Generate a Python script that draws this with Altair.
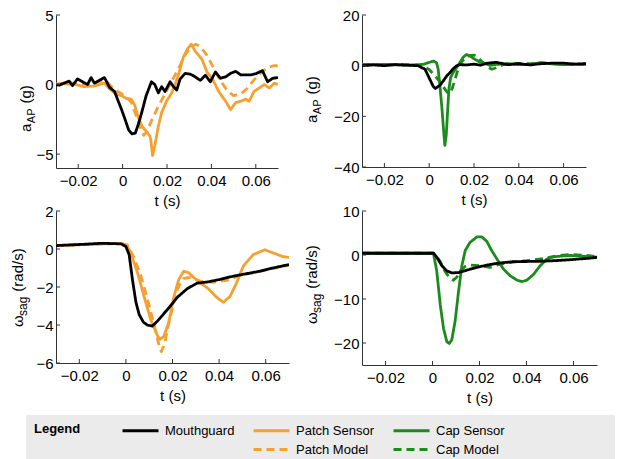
import altair as alt
import pandas as pd

# ---------------- data ----------------
# Panel 1: a_AP, patch
p1_mg_t = [-0.03, -0.0286, -0.0264, -0.0241, -0.0226, -0.0203, -0.018, -0.0158, -0.0142, -0.0127, -0.0105, -0.0082,
           -0.0059, -0.0036, -0.0022, -0.0007, 0.0009, 0.0027, 0.0042, 0.0057, 0.0072, 0.0088, 0.0106, 0.013, 0.0145,
           0.0161, 0.0176, 0.0191, 0.0214, 0.0229, 0.0244, 0.0259, 0.0282, 0.0305, 0.0327, 0.035, 0.0373, 0.0395,
           0.0418, 0.0441, 0.0464, 0.0486, 0.0509, 0.0532, 0.0555, 0.0577, 0.06, 0.063, 0.0653, 0.0676, 0.07]
p1_mg_v = [0, -0.05, 0.1, 0.25, -0.07, 0.4, 0.2, 0, 0.5, 0.1, 0.3, 0.5,
           -0.2, -0.5, -1.1, -1.7, -2.4, -3.25, -3.55, -3.5, -2.8, -1.9, -0.8, 0.2, 0,
           -0.6, -0.15, -0.5, 0.2, -0.15, -0.4, 0.4, 0.8, 0.75, 0.55, 0.3, 0.67, 0.2,
           0.9, 0.45, 0.55, 0.8, 0.95, 0.7, 0.7, 0.7, 0.78, 1.0, 0.2, 0.45, 0.5]
p1_ps_t = [-0.03, -0.0264, -0.0218, -0.0173, -0.0127, -0.0082, -0.0059, -0.0029, -0.0006, 0.0017, 0.0039, 0.0055,
           0.007, 0.0088, 0.0108, 0.0123, 0.0127, 0.0135, 0.0145, 0.0161, 0.0176, 0.0198, 0.0221, 0.0239, 0.0255,
           0.0274, 0.0294, 0.0309, 0.0327, 0.0358, 0.038, 0.0403, 0.0433, 0.0464, 0.0486, 0.0509, 0.0532, 0.0555,
           0.057, 0.0592, 0.0615, 0.0638, 0.0661, 0.0683, 0.07]
p1_ps_v = [0, 0.05, 0.02, -0.15, -0.1, 0.1, -0.3, -0.7, -0.8, -1.0, -1.05, -1.5,
           -2.35, -3.0, -3.4, -3.7, -4.0, -5.1, -4.4, -3.0, -2.0, -1.2, -0.6, 0.1, 0.9,
           2.0, 2.6, 2.9, 2.4, 1.8, 0.9, 0.45, -0.5, -1.2, -1.8, -1.3, -1.2, -1.05,
           -1.2, -0.5, -0.25, 0, -0.25, 0.1, 0]
p1_pm_t = [-0.03, -0.025, -0.02, -0.015, -0.01, -0.007, -0.004, -0.001, 0.002, 0.004, 0.006, 0.008, 0.0095,
           0.011, 0.013, 0.016, 0.019, 0.022, 0.025, 0.028, 0.031, 0.033, 0.035, 0.038, 0.041, 0.044, 0.047,
           0.05, 0.053, 0.056, 0.059, 0.062, 0.065, 0.068, 0.07]
p1_pm_v = [0.05, 0.1, 0.1, 0, 0.25, 0.2, -0.35, -0.6, -0.95, -1.3, -2.2, -3.1, -3.65,
           -3.4, -2.6, -1.6, -0.7, 0.2, 1.1, 2.1, 2.75, 2.9, 2.75, 2.1, 1.2, 0.3, -0.4,
           -0.8, -0.7, -0.3, 0.3, 0.8, 1.2, 1.35, 1.35]

# Panel 2: a_AP, cap
p2_mg_t = [-0.03, -0.025, -0.02, -0.015, -0.01, -0.005, -0.0019, 0.0003, 0.0018, 0.0028, 0.0048, 0.0063, 0.0078,
           0.0093, 0.0107, 0.0122, 0.0137, 0.017, 0.02, 0.023, 0.026, 0.03, 0.035, 0.04, 0.045, 0.05, 0.055,
           0.06, 0.065, 0.07]
p2_mg_v = [0, 0.3, 0, 0.4, 0.2, 0, -1.4, -5.4, -8.2, -9, -7.7, -6, -4.1,
           -2.7, -1.2, -0.1, 0.4, 0.3, 0.6, 0.2, 1.0, 1.3, 0.4, 0.8, 0.3, 0.8, 1.0,
           1.0, 0.6, 0.8]
p2_cs_t = [-0.03, -0.02, -0.01, -0.0027, -0.0004, 0.002, 0.0033, 0.004, 0.0048, 0.0057, 0.0066, 0.007, 0.0076,
           0.0082, 0.0088, 0.0096, 0.0107, 0.0122, 0.0137, 0.0152, 0.0167, 0.0182, 0.0204, 0.0227, 0.0249,
           0.0272, 0.03, 0.035, 0.04, 0.045, 0.05, 0.055, 0.06, 0.065, 0.07]
p2_cs_v = [0.3, 0.5, 0.2, 0.5, 1.2, 1.8, 1.2, -1.4, -8, -17, -27.5, -31.5, -27.5,
           -18.3, -9.2, -4.6, -2.7, -0.8, 1.2, 3.4, 4.4, 3.8, 2.5, 1.4, 0.9,
           0.1, 0.5, 0.8, 0.4, 0.6, 1.2, 0.7, 0.4, 0.6, 0.5]
p2_cm_t = [-0.03, -0.02, -0.01, -0.003, 0.0, 0.002, 0.004, 0.006, 0.008, 0.0095, 0.011, 0.0125, 0.014, 0.016,
           0.018, 0.02, 0.022, 0.024, 0.026, 0.028, 0.03, 0.033, 0.036, 0.04, 0.045, 0.05, 0.055, 0.06, 0.065, 0.07]
p2_cm_v = [0.5, 0.4, 0.4, 0, -1.5, -3.5, -5.5, -8, -10.5, -11, -7, -2.5, 1, 3,
           4, 4.2, 3, 1.2, -0.5, -1.4, -0.8, 0.4, 0.8, 0.9, 0.7, 1.1, 0.8, 0.6, 0.4, 0.6]

# Panel 3: omega_sag, patch
p3_mg_t = [-0.03, -0.0177, -0.0106, -0.0021, 0, 0.0014, 0.0028, 0.0043, 0.0057, 0.0075, 0.0092, 0.0113, 0.0135,
           0.0163, 0.0191, 0.022, 0.0262, 0.0305, 0.0348, 0.0404, 0.0461, 0.0518, 0.0574, 0.0631, 0.07]
p3_mg_v = [0.18, 0.25, 0.3, 0.27, 0.13, -0.3, -1.6, -2.8, -3.45, -3.85, -4.0, -4.06, -3.8,
           -3.4, -3.0, -2.55, -2.1, -1.8, -1.74, -1.6, -1.43, -1.3, -1.17, -1.0, -0.82]
p3_ps_t = [-0.03, -0.0021, 0.0004, 0.0021, 0.005, 0.0078, 0.0106, 0.0135, 0.0146, 0.0163, 0.0184, 0.0206, 0.0227,
           0.0248, 0.027, 0.0291, 0.0319, 0.0355, 0.039, 0.0418, 0.0447, 0.0475, 0.0504, 0.0546, 0.0596, 0.0631,
           0.0674, 0.07]
p3_ps_v = [0.18, 0.3, 0.2, -0.2, -1.26, -2.5, -3.7, -4.55, -4.75, -4.6, -3.85, -2.5, -1.6,
           -1.17, -1.25, -1.5, -1.78, -2.1, -2.55, -2.8, -2.5, -1.78, -0.9, -0.3, -0.04, -0.2,
           -0.4, -0.44]
p3_pm_t = [-0.03, -0.0021, 0.0007, 0.0035, 0.0064, 0.0092, 0.0121, 0.0142, 0.0152, 0.0166, 0.0184, 0.0206, 0.0227,
           0.0248, 0.0277, 0.0319, 0.0376, 0.0433, 0.0489, 0.0546, 0.0603, 0.066, 0.07]
p3_pm_v = [0.18, 0.3, 0.2, -0.45, -1.4, -2.6, -4.0, -5.05, -5.4, -5.0, -3.9, -2.8, -1.95,
           -1.55, -1.5, -1.69, -1.75, -1.65, -1.4, -1.25, -1.1, -0.95, -0.85]

# Panel 4: omega_sag, cap
p4_mg_t = [-0.03, 0.0004, 0.0018, 0.004, 0.0061, 0.0082, 0.0111, 0.0146, 0.0189, 0.0231, 0.0274, 0.0345, 0.0444,
           0.0515, 0.0586, 0.0657, 0.07]
p4_mg_v = [0.4, 0.4, -0.5, -2.45, -3.6, -4.06, -4.0, -3.45, -2.8, -2.3, -1.9, -1.5, -1.45,
           -1.3, -1.07, -0.77, -0.54]
p4_cs_t = [-0.03, 0.0004, 0.0018, 0.0033, 0.0047, 0.0061, 0.0071, 0.0082, 0.0096, 0.0111, 0.0125, 0.0139, 0.016,
           0.0189, 0.021, 0.0231, 0.0252, 0.0274, 0.0302, 0.033, 0.0359, 0.038, 0.0401, 0.043, 0.0458, 0.0487,
           0.0515, 0.0586, 0.0643, 0.07]
p4_cs_v = [0.4, 0.4, -3.6, -11.3, -16.7, -19.7, -20.1, -19.3, -15.1, -8.2, -2.45, 1.0, 2.9,
           4.1, 4.1, 3.1, 1.0, -0.9, -3.2, -4.7, -5.7, -6.05, -5.75, -4.4, -2.45, -0.9,
           -0.4, -0.1, -0.3, -0.5]
p4_cm_t = [-0.03, 0.0004, 0.0018, 0.0033, 0.0054, 0.0075, 0.0089, 0.0104, 0.0118, 0.0139, 0.016, 0.0203, 0.0245,
           0.0288, 0.0345, 0.0401, 0.0472, 0.0529, 0.0586, 0.0657, 0.07]
p4_cm_v = [0.4, 0.4, -0.3, -1.5, -3.8, -5.3, -5.75, -5.0, -3.6, -2.6, -2.3, -2.45, -2.8,
           -2.07, -1.6, -1.3, -0.8, -0.2, 0.1, -0.1, -0.4]

x_ticks = [-0.02, 0, 0.02, 0.04, 0.06]
p1_yticks = [-5, 0, 5]
p2_yticks = [-40, -20, 0, 20]
p3_yticks = [-6, -4, -2, 0, 2]
p4_yticks = [-20, -10, 0, 10]

# legend entries; blank ones only pad the grey legend box (legend grid is filled column by column)
FILL1 = "\u2800" * 4
BLANK = " "
FILL2 = "\u2800"
series_names = ["Mouthguard", BLANK, "Patch Sensor", "Patch Model", "Cap Sensor", "Cap Model", FILL1, FILL2]

# ---------------- styling ----------------
ORANGE = "#F7A031"
GREEN = "#1B8C1B"
BLACK = "#000000"
FONT = "Liberation Sans"
AXC = "#333333"

series_colors = [BLACK, "transparent", ORANGE, ORANGE, GREEN, GREEN, "transparent", "transparent"]
series_dash = [[1, 0], [1, 0], [1, 0], [8, 5], [1, 0], [8, 5], [1, 0], [1, 0]]

LEG = alt.Legend(
    title="Legend", orient="none", legendX=-30, legendY=400, columns=4,
    fillColor="#EBEBEB", padding=8, strokeColor="#EBEBEB",
    titleOrient="left", titleAnchor="start", titleFont=FONT, titleFontSize=13,
    titleFontWeight="bold", titleColor="black", titlePadding=40,
    titleBaseline="line-top", titleLineHeight=13,
    labelFont=FONT, labelFontSize=13, labelColor="black", labelOffset=29,
    symbolType="M-1,0H5", symbolSize=144, symbolStrokeWidth=3,
    columnPadding=12, rowPadding=4,
)
color_enc = alt.Color("series:N", scale=alt.Scale(domain=series_names, range=series_colors), legend=LEG)
dash_enc = alt.StrokeDash("series:N", scale=alt.Scale(domain=series_names, range=series_dash), legend=LEG)

CW = {"a": 0.556, "A": 0.667, "P": 0.667, " ": 0.278, "(": 0.333, ")": 0.333, "g": 0.556,
      "\u03c9": 0.70, "s": 0.5, "r": 0.333, "d": 0.556, "/": 0.278}


def text_w(s, size):
    return sum(CW.get(c, 0.556) for c in s) * size


def panel(lines, ydom, yticks, W, H, title_parts, tx, ty):
    xs = alt.Scale(domain=[-0.03, 0.07], nice=False, zero=False)
    ys = alt.Scale(domain=ydom, nice=False, zero=False)
    xaxis = alt.Axis(values=x_ticks, format=".2~f", title="t (s)", ticks=False, grid=False,
                     domainColor=AXC, labelFont=FONT, labelFontSize=15, labelColor="black",
                     labelPadding=5, labelFlush=False, labelOverlap=False,
                     titleFont=FONT, titleFontSize=15, titleFontWeight="normal", titleColor="black",
                     titlePadding=5)
    yaxis = alt.Axis(values=yticks, format="d", title=None, ticks=False, grid=False,
                     domainColor=AXC, labelFont=FONT, labelFontSize=15, labelColor="black",
                     labelPadding=3, labelFlush=False, labelOverlap=False)
    x = alt.X("t:Q", scale=xs, axis=xaxis)
    y = alt.Y("v:Q", scale=ys, axis=yaxis)
    layers = []
    for name, tt, vv in lines:
        df = pd.DataFrame({"t": tt, "v": vv, "series": name})
        layers.append(
            alt.Chart(df).mark_line(strokeWidth=2.8, clip=True, strokeJoin="round")
            .encode(x=x, y=y, color=color_enc, strokeDash=dash_enc)
        )
    # inward ticks, placed by the scales at the tick values
    layers.append(
        alt.Chart(pd.DataFrame({"t": x_ticks})).mark_rule(color=AXC, strokeWidth=1)
        .encode(x=x, y=alt.value(H), y2=alt.value(H - 4))
    )
    layers.append(
        alt.Chart(pd.DataFrame({"v": yticks})).mark_rule(color=AXC, strokeWidth=1)
        .encode(y=y, x=alt.value(0), x2=alt.value(4))
    )
    # y title with subscript
    ypos = ty
    for txt, size, shift, gap in title_parts:
        layers.append(
            alt.Chart(alt.Data(values=[{}])).mark_text(
                text=txt, angle=270, align="left", baseline="alphabetic",
                font=FONT, fontSize=size, color="black")
            .encode(x=alt.value(tx + shift), y=alt.value(ypos))
        )
        ypos -= text_w(txt, size) + gap
    return alt.layer(*layers).properties(width=W, height=H)


aAP = [("a", 15, 0, 0.5), ("AP", 11, 3.5, 5), ("(g)", 15, 0, 0)]
wsag = [("\u03c9", 15, 0, 0.5), ("sag", 12, 3.5, 5), ("(rad/s)", 15, 0, 0)]

p1 = panel([("Patch Model", p1_pm_t, p1_pm_v), ("Patch Sensor", p1_ps_t, p1_ps_v),
            ("Mouthguard", p1_mg_t, p1_mg_v)], [-6, 5], p1_yticks, 222, 153, aAP, -25, 117)
p2 = panel([("Cap Model", p2_cm_t, p2_cm_v), ("Cap Sensor", p2_cs_t, p2_cs_v),
            ("Mouthguard", p2_mg_t, p2_mg_v)], [-40, 20], p2_yticks, 224, 152, aAP, -45, 108)
p3 = panel([("Patch Model", p3_pm_t, p3_pm_v), ("Patch Sensor", p3_ps_t, p3_ps_v),
            ("Mouthguard", p3_mg_t, p3_mg_v)], [-6, 2], p3_yticks, 233, 152, wsag, -33, 116)
p4 = panel([("Cap Model", p4_cm_t, p4_cm_v), ("Cap Sensor", p4_cs_t, p4_cs_v),
            ("Mouthguard", p4_mg_t, p4_mg_v)], [-25, 10], p4_yticks, 235, 154, wsag, -45, 113)

chart = (
    alt.concat(p1, p2, p3, p4, columns=2, spacing={"row": -4, "column": 16})
    .resolve_scale(color="shared", strokeDash="shared")
    .properties(padding={"left": 3, "top": 0, "right": 0, "bottom": 0})
    .configure_view(stroke=None)
)

chart.save("out.html", embed_options={"renderer": "svg", "actions": False})
